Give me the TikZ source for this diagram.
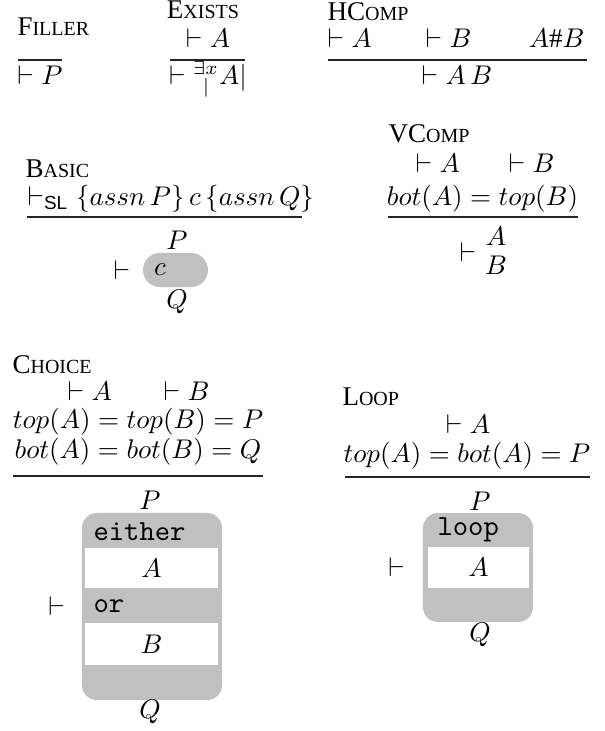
\documentclass[tikz,border=0pt]{standalone}
\usepackage{fontspec}
\setmainfont{Liberation Serif}
\setsansfont{Liberation Sans}
\usepackage{amsmath,amssymb}
\usepackage{xcolor}
\definecolor{boxgray}{HTML}{C0C0C0}
\usetikzlibrary{positioning}
\newcommand{\rname}[2]{{\fontsize{10}{12}\selectfont #1\fontsize{7.4}{9}\selectfont #2}}
\tikzset{
  lbl/.style={inner sep=0pt, anchor=base west},
  fm/.style={inner sep=0pt, anchor=base},
  sym/.style={inner sep=0pt},
  rl/.style={draw=black!85, line width=0.45pt},
  pill/.style={fill=boxgray, rounded corners=6.2pt, minimum width=24pt,
               minimum height=12.6pt, inner sep=0pt},
  gbox/.style={fill=boxgray, rounded corners=5.5pt, inner sep=0pt},
  wbox/.style={fill=white, inner sep=0pt},
  kw/.style={inner sep=0pt, anchor=base west,
             font=\fontsize{10.8}{12}\ttfamily\selectfont},
}

\begin{document}
\begin{tikzpicture}[x=0.37pt, y=-0.37pt]
  \useasboundingbox (0,0) rectangle (605,731);
  % filler
  \node[lbl] (fillN) at (17,35) {\rname{F}{ILLER}};
  \draw[rl] (18,60) -- (62,60);
  \node[fm] (fillC) at (40,84) {$\vdash P$};
  % exists
  \node[fm] (exN) at (203,18) {\rname{E}{XISTS}};
  \node[fm] (exP) at (208,47) {$\vdash A$};
  \draw[rl] (170,60) -- (245,60);
  \node[fm] (exC) at (208,84) {$\vdash {}^{\exists x}_{\hspace{3.6pt}|}A|$};
  % hcomp
  \node[lbl] (hcN) at (327,20) {\rname{HC}{OMP}};
  \node[lbl] (hcA) at (327,47) {$\vdash A$};
  \node[lbl] (hcB) at (425,47) {$\vdash B$};
  \node[fm, anchor=base east] (hcD) at (585,47) {$A\#B$};
  \draw[rl] (328,60) -- (587,60);
  \node[fm] (hcC) at (457,84) {$\vdash A\,B$};
  % basic
  \node[lbl] (bsN) at (25,177) {\rname{B}{ASIC}};
  \node[lbl] (bsP) at (27,205) {$\vdash_{\textsf{SL}} \{assn\,P\}\,c\,\{assn\,Q\}$};
  \draw[rl] (27,217) -- (302,217);
  \node[sym] (bsTop) at (177,240) {$P$};
  \node[pill] (bsCmd) at (175.5,270) {};
  \node[sym] (bsc) at (160,270) {$c$};
  \node[sym, left=4.4pt of bsCmd] (bsTurn) {$\vdash$};
  \node[sym] (bsBot) at (177,302) {$Q$};
  % vcomp
  \node[lbl] (vcN) at (388,142) {\rname{VC}{OMP}};
  \node[lbl] (vcA) at (415,172) {$\vdash A$};
  \node[lbl] (vcB) at (508,172) {$\vdash B$};
  \node[fm] (vcEq) at (482.5,205) {$bot(A) = top(B)$};
  \draw[rl] (388,217) -- (578,217);
  \node[sym] (vcTurn) at (468,252) {$\vdash$};
  \node[sym] (vcTop) at (496,236) {$A$};
  \node[sym] (vcBot) at (496,265) {$B$};
  % choice
  \node[lbl] (chN) at (12,373) {\rname{C}{HOICE}};
  \node[lbl] (chA) at (67,400) {$\vdash A$};
  \node[lbl] (chB) at (163,400) {$\vdash B$};
  \node[fm] (chTop) at (138,428) {$top(A) = top(B) = P$};
  \node[fm] (chBot) at (138,458) {$bot(A) = bot(B) = Q$};
  \draw[rl] (13,476) -- (263,476);
  \node[sym] (chP) at (150,500) {$P$};
  \node[gbox, minimum width=51.8pt, minimum height=69.2pt] (chBox) at (152,606.5) {};
  \node[wbox, minimum width=49.2pt, minimum height=14.8pt] (chBoxA) at (151.5,568) {$A$};
  \node[wbox, minimum width=49.2pt, minimum height=15.5pt] (chBoxB) at (151.5,644) {$B$};
  \node[kw] (chEither) at (93,540) {either};
  \node[kw] (chOr) at (93,612) {or};
  \node[sym, left=5.9pt of chBox] (chTurn) {$\vdash$};
  \node[sym] (chQ) at (150,712) {$Q$};
  % loop
  \node[lbl] (lpN) at (342,405) {\rname{L}{OOP}};
  \node[fm] (lpA) at (468,433) {$\vdash A$};
  \node[fm] (lpEq) at (467,462) {$top(A) = bot(A) = P$};
  \draw[rl] (345,477) -- (590,477);
  \node[sym] (lpP) at (480,501) {$P$};
  \node[gbox, minimum width=40.7pt, minimum height=40.3pt] (lpBox) at (478,567.5) {};
  \node[wbox, minimum width=37.4pt, minimum height=15.2pt] (lpBoxA) at (478.5,567.5) {$A$};
  \node[kw] (lpKw) at (437,535) {loop};
  \node[sym, left=6.3pt of lpBox] (lpTurn) {$\vdash$};
  \node[sym] (lpQ) at (480,635) {$Q$};
\end{tikzpicture}
\end{document}
